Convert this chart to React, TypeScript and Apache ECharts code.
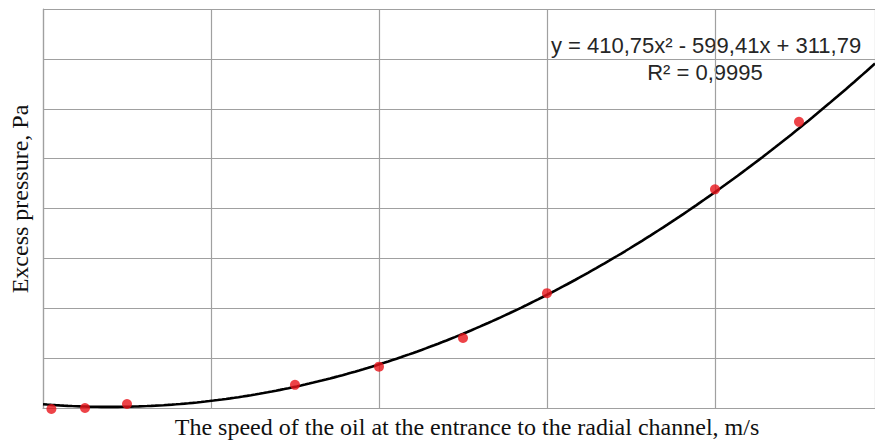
import React, { useEffect, useRef } from "react";
import * as echarts from "echarts";

const speeds = [0.66, 0.7, 0.75, 0.95, 1.05, 1.15, 1.25, 1.45, 1.55];
const pressures = [91, 92, 96, 115, 133, 161.5, 206, 309, 376];

// Polynomial trendline coefficients shown on the chart: a*x^2 + b*x + c
const trendCoefficients = [410.75, -599.41, 311.79];
const equationLines = ["y = 410,75x² - 599,41x + 311,79", "R² = 0,9995"];

const xTitle = "The speed of the oil at the entrance to the radial channel, m/s";
const yTitle = "Excess pressure, Pa";

const X_MIN = 0.65;
const X_MAX = 1.6405;
const Y_MIN = 92;
const Y_STEP = 49.5;
const Y_MAX = Y_MIN + 8 * Y_STEP;

export default function App() {
  const ref = useRef<HTMLDivElement>(null);

  useEffect(() => {
    if (!ref.current) return;
    const chart = echarts.init(ref.current, null, { renderer: "svg" });
    const [a, b, c] = trendCoefficients;
    const trend: number[][] = [];
    const steps = 200;
    for (let i = 0; i <= steps; i++) {
      const x = X_MIN + ((X_MAX - X_MIN) * i) / steps;
      trend.push([x, a * x * x + b * x + c]);
    }
    const gridColor = "#a0a0a0";
    chart.setOption({
      animation: false,
      backgroundColor: "#ffffff",
      grid: { left: 43, top: 9, right: 0, bottom: 33, containLabel: false },
      xAxis: {
        type: "value",
        min: X_MIN,
        max: X_MAX,
        interval: 0.2,
        axisLabel: { show: false },
        axisTick: { show: false },
        axisLine: { show: true, lineStyle: { color: gridColor, width: 1.2 } },
        splitLine: { show: true, lineStyle: { color: gridColor, width: 1.2 } },
      },
      yAxis: {
        type: "value",
        min: Y_MIN,
        max: Y_MAX,
        interval: Y_STEP,
        axisLabel: { show: false },
        axisTick: { show: false },
        axisLine: { show: true, lineStyle: { color: gridColor, width: 1.2 } },
        splitLine: { show: true, lineStyle: { color: gridColor, width: 1.2 } },
      },
      series: [
        {
          type: "line",
          data: trend,
          showSymbol: false,
          symbol: "none",
          clip: true,
          lineStyle: { color: "#000000", width: 2.6 },
          z: 2,
        },
        {
          type: "scatter",
          data: speeds.map((s, i) => [s, pressures[i]]),
          symbol: "circle",
          symbolSize: 10,
          clip: false,
          itemStyle: { color: "#e8141a" },
          z: 3,
        },
      ],
      graphic: [
        {
          type: "text",
          x: 706,
          y: 45,
          style: {
            text: equationLines[0],
            font: '22px "Liberation Sans"',
            fill: "#262626",
            textAlign: "center",
            textVerticalAlign: "middle",
          },
        },
        {
          type: "text",
          x: 705,
          y: 72,
          style: {
            text: equationLines[1],
            font: '22px "Liberation Sans"',
            fill: "#262626",
            textAlign: "center",
            textVerticalAlign: "middle",
          },
        },
        {
          type: "text",
          x: 467,
          y: 427,
          style: {
            text: xTitle,
            font: '24px "Liberation Serif"',
            fill: "#111111",
            textAlign: "center",
            textVerticalAlign: "middle",
          },
        },
        {
          type: "text",
          x: 20,
          y: 199,
          rotation: Math.PI / 2,
          style: {
            text: yTitle,
            font: '24px "Liberation Serif"',
            fill: "#111111",
            textAlign: "center",
            textVerticalAlign: "middle",
          },
        },
      ],
    });
    return () => chart.dispose();
  }, []);

  return (
    <div
      ref={ref}
      style={{ position: "absolute", left: 0, top: 0, width: 875, height: 441 }}
    />
  );
}
